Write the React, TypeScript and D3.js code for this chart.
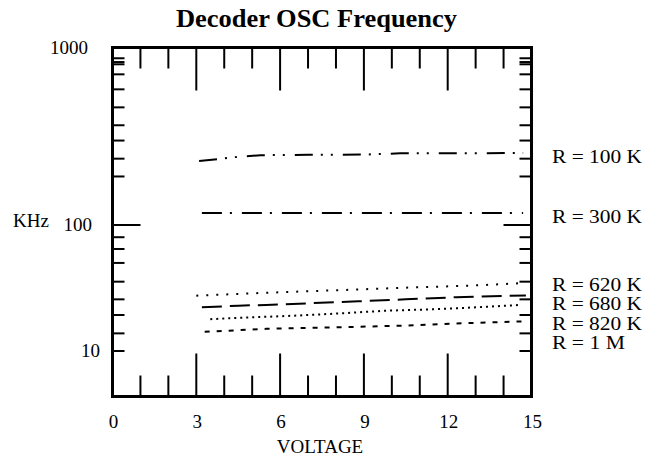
import React from 'react';
import * as d3 from 'd3';

// ── Data ────────────────────────────────────────────────────────────────
const title = 'Decoder OSC Frequency';
const xTitle = 'VOLTAGE';
const yTitle = 'KHz';

const xTickLabels = [0, 3, 6, 9, 12, 15];
const xMinorTicks = [1, 2, 4, 5, 7, 8, 10, 11, 13, 14];
const yTickLabels = [1000, 100, 10];
// the original axis has irregular minor ticks
const yMinorTicks = [875, 833, 809, 710, 584, 462, 366, 300, 237, 188, 80, 64.5, 50, 35.5, 25.7, 19.3, 13.8, 10];

const seriesNames = ['R = 100 K', 'R = 300 K', 'R = 620 K', 'R = 680 K', 'R = 820 K', 'R = 1 M'];

// [voltage, kHz]
const r100k: [number, number][] = [[3.1, 230], [3.8, 236], [4.5, 243], [5.3, 248], [7, 249], [9, 250], [10.3, 254], [14.7, 255]];
const r300k: [number, number][] = [[3.2, 117], [9, 117], [14.7, 117]];
const r620k: [number, number][] = [[3, 27.5], [5, 28.7], [7, 29.8], [9, 30.9], [11, 32.1], [12.8, 33], [14.7, 34.6]];
const r680k: [number, number][] = [[3.2, 22.2], [4.5, 22.9], [5.5, 23.2], [7, 23.9], [8.8, 24.8], [10.5, 25.7], [12.3, 26.7], [14.8, 27.6]];
const r820k: [number, number][] = [[3.5, 17.9], [5, 18.5], [6.6, 19.1], [8.2, 19.9], [9.8, 20.9], [11.4, 21.4], [13, 22.2], [14.6, 23.2]];
const r1m: [number, number][] = [[3.3, 14.2], [5.5, 15], [8, 15.4], [10.4, 15.9], [12.5, 16.6], [14.8, 17.2]];

const seriesData = [r100k, r300k, r620k, r680k, r820k, r1m];

// dash patterns per series (same order)
const dashes = ['18,8,2,8,2,10', '20,8,2,10', '2,8', '20,8', '2,4', '5,7'];

// ── Layout ──────────────────────────────────────────────────────────────
const W = 658;
const H = 457;
const left = 112.5;
const right = 531.5;
const top = 47.5;
const bottom = 396.5;
const font = '"Liberation Serif", "Times New Roman", serif';

export default function App() {
  const x = d3.scaleLinear().domain([0, 15]).range([left, right]);
  // piecewise log scale: the upper decade is drawn taller than the lower one
  const y = d3.scaleLog().domain([10, 100, 1000]).range([351, 225, 48]);

  const line = d3
    .line<[number, number]>()
    .x((d) => x(d[0]))
    .y((d) => y(d[1]));

  const yLabelEnd: Record<number, number> = { 1000: 88, 100: 92, 10: 100 };

  // label baselines: top two follow their lines, the rest are stacked
  const last = (s: [number, number][]) => s[s.length - 1][1];
  const labelY = seriesNames.map((_, i) => {
    if (i < 2) return y(last(seriesData[i])) + 10;
    return y(last(seriesData[2])) + 8 + (i - 2) * 19.3;
  });

  return (
    <svg
      width={W}
      height={H}
      style={{ position: 'absolute', left: 0, top: 0, background: '#fff' }}
      fontFamily={font}
    >
      <rect width={W} height={H} fill="#fff" />

      <text x={316.5} y={27} textAnchor="middle" fontSize={25} fontWeight="bold" textLength={281} lengthAdjust="spacingAndGlyphs">
        {title}
      </text>

      {/* x ticks, bottom and top */}
      <g stroke="#000" strokeWidth={2}>
        {xMinorTicks.map((v) => (
          <g key={'xm' + v}>
            <line x1={x(v)} x2={x(v)} y1={bottom} y2={bottom - 21} />
            <line x1={x(v)} x2={x(v)} y1={top} y2={top + 21} />
          </g>
        ))}
        {xTickLabels.map((v) => (
          <g key={'xM' + v}>
            <line x1={x(v)} x2={x(v)} y1={bottom} y2={bottom - 43} />
            <line x1={x(v)} x2={x(v)} y1={top} y2={top + 43} />
          </g>
        ))}
        {yMinorTicks.map((v) => (
          <g key={'ym' + v}>
            <line x1={left} x2={left + 12} y1={y(v)} y2={y(v)} />
            <line x1={right} x2={right - 12} y1={y(v)} y2={y(v)} />
          </g>
        ))}
        <line x1={left} x2={left + 28} y1={y(100)} y2={y(100)} />
        <line x1={right} x2={right - 28} y1={y(100)} y2={y(100)} />
      </g>

      {/* series */}
      <g fill="none" stroke="#000" strokeWidth={2}>
        {seriesData.map((s, i) => (
          <path key={i} d={line(s) || ''} strokeDasharray={dashes[i]} />
        ))}
      </g>

      <rect x={left} y={top} width={right - left} height={bottom - top} fill="none" stroke="#000" strokeWidth={3} />

      {/* tick labels */}
      <g fontSize={19} fill="#000">
        {xTickLabels.map((v) => (
          <text key={'xl' + v} x={x(v) + 1} y={428} textAnchor="middle">
            {v}
          </text>
        ))}
        {yTickLabels.map((v) => (
          <text key={'yl' + v} x={yLabelEnd[v]} y={y(v) + 6} textAnchor="end">
            {v}
          </text>
        ))}
        <text x={13} y={y(100) + 2}>{yTitle}</text>
        <text x={320} y={453} textAnchor="middle">{xTitle}</text>
        {seriesNames.map((n, i) => (
          <text key={n} x={552} y={labelY[i]} textLength={n.endsWith('M') ? 73 : 90} lengthAdjust="spacingAndGlyphs">
            {n}
          </text>
        ))}
      </g>
    </svg>
  );
}
